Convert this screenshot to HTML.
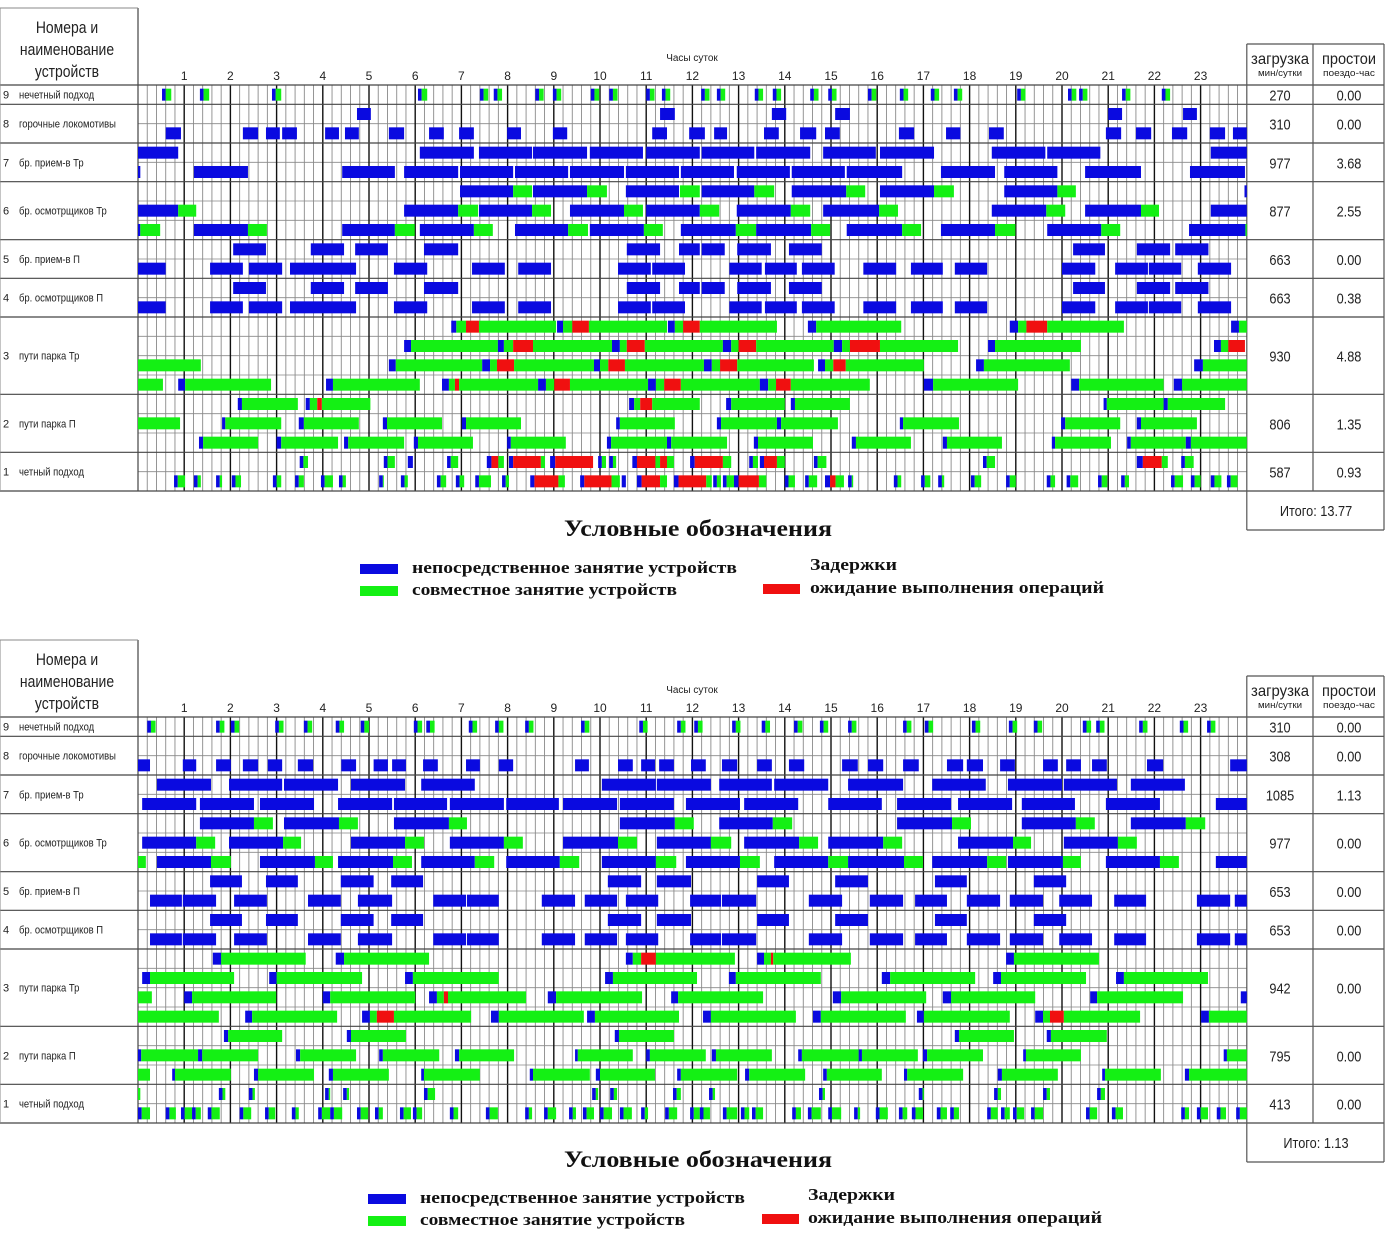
<!DOCTYPE html>
<html><head><meta charset="utf-8">
<style>
html,body{margin:0;padding:0;background:#fff;}
svg{display:block;}
text{font-family:"Liberation Sans","DejaVu Sans",sans-serif;}
.serif{font-family:"Liberation Serif","DejaVu Serif",serif;font-weight:bold;}
</style></head>
<body>
<svg id="chart" width="1385" height="1240" viewBox="0 0 1385 1240" xmlns="http://www.w3.org/2000/svg"></svg>
<script>
// ===== DATA (hours of day) =====
const hourTicks = [1,2,3,4,5,6,7,8,9,10,11,12,13,14,15,16,17,18,19,20,21,22,23];
const rowNumbers = ["9","8","7","6","5","4","3","2","1"];
const rowNames = ["нечетный подход","горочные локомотивы","бр. прием-в Тр","бр. осмотрщиков Тр","бр. прием-в П","бр. осмотрщиков П","пути парка Тр","пути парка П","четный подход"];
const subRowCounts = [1,2,2,3,2,2,4,3,2];

const topLoad = ["270","310","977","877","663","663","930","806","587"];
const topIdle = ["0.00","0.00","3.68","2.55","0.00","0.38","4.88","1.35","0.93"];
const topTotal = "Итого: 13.77";
const botLoad = ["310","308","1085","977","653","653","942","795","413"];
const botIdle = ["0.00","0.00","1.13","0.00","0.00","0.00","0.00","0.00","0.00"];
const botTotal = "Итого: 1.13";

// ---- TOP panel ----
const topRow9 = [[[0.52,0.72,'K'],[1.34,1.54,'K'],[2.9,3.1,'K'],[6.06,6.26,'K'],[7.4,7.58,'K'],[7.7,7.88,'K'],[8.6,8.78,'K'],[8.98,9.16,'K'],[9.8,9.98,'K'],[10.2,10.38,'K'],[11.0,11.18,'K'],[11.34,11.52,'K'],[12.19,12.37,'K'],[12.53,12.71,'K'],[13.35,13.53,'K'],[13.74,13.92,'K'],[14.55,14.73,'K'],[14.94,15.12,'K'],[15.8,15.98,'K'],[16.49,16.67,'K'],[17.16,17.34,'K'],[17.66,17.84,'K'],[19.03,19.21,'K'],[20.13,20.31,'K'],[20.37,20.55,'K'],[21.3,21.48,'K'],[22.16,22.34,'K']]];
const topRow8 = [
 [[4.74,5.04,'B'],[11.3,11.62,'B'],[13.72,14.03,'B'],[15.09,15.41,'B'],[21.0,21.3,'B'],[22.62,22.92,'B']],
 [[0.6,0.93,'B'],[2.27,2.6,'B'],[2.77,3.07,'B'],[3.12,3.44,'B'],[4.05,4.35,'B'],[4.48,4.78,'B'],[5.43,5.76,'B'],[6.3,6.62,'B'],[6.95,7.27,'B'],[7.99,8.29,'B'],[8.98,9.29,'B'],[11.13,11.45,'B'],[11.93,12.27,'B'],[12.47,12.75,'B'],[13.55,13.87,'B'],[14.33,14.68,'B'],[14.87,15.19,'B'],[16.47,16.8,'B'],[17.49,17.8,'B'],[18.42,18.74,'B'],[20.95,21.28,'B'],[21.6,21.93,'B'],[22.38,22.71,'B'],[23.2,23.53,'B'],[23.7,24,'B']]];
const topRow7 = [
 [[0,0.87,'B'],[6.1,7.27,'B'],[7.38,8.53,'B'],[8.55,9.72,'B'],[9.78,10.93,'B'],[11.0,12.16,'B'],[12.2,13.34,'B'],[13.38,14.55,'B'],[14.83,15.97,'B'],[16.06,17.23,'B'],[18.48,19.64,'B'],[19.68,20.83,'B'],[23.22,24,'B']],
 [[0,0.05,'B'],[1.21,2.38,'B'],[4.42,5.56,'B'],[5.76,6.93,'B'],[6.97,8.12,'B'],[8.16,9.31,'B'],[9.35,10.52,'B'],[10.56,11.71,'B'],[11.75,12.9,'B'],[12.96,14.11,'B'],[14.15,15.3,'B'],[15.34,16.54,'B'],[17.38,18.55,'B'],[18.75,19.9,'B'],[20.5,21.71,'B'],[22.77,23.96,'B']]];
const topRow6 = [
 [[6.97,8.12,'B'],[8.12,8.53,'G'],[8.55,9.72,'B'],[9.72,10.15,'G'],[10.56,11.71,'B'],[11.73,12.16,'G'],[12.2,13.34,'B'],[13.34,13.77,'G'],[14.15,15.33,'B'],[15.33,15.74,'G'],[16.06,17.23,'B'],[17.23,17.66,'G'],[18.75,19.9,'B'],[19.9,20.3,'G'],[23.95,24,'B']],
 [[0,0.87,'B'],[0.87,1.26,'G'],[5.76,6.93,'B'],[6.93,7.36,'G'],[7.38,8.53,'B'],[8.53,8.94,'G'],[9.35,10.52,'B'],[10.52,10.93,'G'],[11.0,12.16,'B'],[12.16,12.58,'G'],[12.96,14.13,'B'],[14.13,14.55,'G'],[14.83,16.04,'B'],[16.04,16.45,'G'],[18.48,19.66,'B'],[19.66,20.07,'G'],[20.5,21.71,'B'],[21.71,22.1,'G'],[23.22,24,'B']],
 [[0,0.05,'B'],[0.05,0.48,'G'],[1.21,2.38,'B'],[2.38,2.79,'G'],[4.42,5.56,'B'],[5.56,5.99,'G'],[6.1,7.27,'B'],[7.27,7.68,'G'],[8.16,9.31,'B'],[9.31,9.74,'G'],[9.78,10.95,'B'],[10.95,11.36,'G'],[11.75,12.94,'B'],[12.94,13.38,'G'],[13.38,14.57,'B'],[14.57,14.98,'G'],[15.34,16.54,'B'],[16.54,16.95,'G'],[17.38,18.55,'B'],[18.55,18.99,'G'],[19.68,20.85,'B'],[20.85,21.26,'G'],[22.75,23.97,'B'],[23.97,24,'G']]];
const topRow5 = [
 [[2.06,2.77,'B'],[3.74,4.46,'B'],[4.7,5.41,'B'],[6.19,6.93,'B'],[10.58,11.3,'B'],[11.71,12.16,'B'],[12.2,12.7,'B'],[12.97,13.7,'B'],[14.09,14.8,'B'],[20.24,20.93,'B'],[21.62,22.34,'B'],[22.45,23.17,'B']],
 [[0,0.6,'B'],[1.56,2.27,'B'],[2.4,3.12,'B'],[3.29,4.72,'B'],[5.54,6.26,'B'],[7.23,7.94,'B'],[8.23,8.94,'B'],[10.39,11.1,'B'],[11.13,11.84,'B'],[12.8,13.5,'B'],[13.57,14.26,'B'],[14.37,15.08,'B'],[15.7,16.41,'B'],[16.73,17.42,'B'],[17.68,18.38,'B'],[20.0,20.72,'B'],[21.15,21.86,'B'],[21.88,22.58,'B'],[22.94,23.66,'B']]];
const topRow4 = [
 [[2.06,2.77,'B'],[3.74,4.46,'B'],[4.7,5.41,'B'],[6.19,6.93,'B'],[10.58,11.3,'B'],[11.71,12.16,'B'],[12.2,12.7,'B'],[12.97,13.7,'B'],[14.09,14.8,'B'],[20.24,20.93,'B'],[21.62,22.34,'B'],[22.45,23.17,'B']],
 [[0,0.6,'B'],[1.56,2.27,'B'],[2.4,3.12,'B'],[3.29,4.72,'B'],[5.54,6.26,'B'],[7.23,7.94,'B'],[8.23,8.94,'B'],[10.39,11.1,'B'],[11.13,11.84,'B'],[12.8,13.5,'B'],[13.57,14.26,'B'],[14.37,15.08,'B'],[15.7,16.41,'B'],[16.73,17.42,'B'],[17.68,18.38,'B'],[20.0,20.72,'B'],[21.15,21.86,'B'],[21.88,22.58,'B'],[22.94,23.66,'B']]];
const topRow3 = [
 [[6.78,6.89,'B'],[6.89,7.1,'G'],[7.1,7.38,'R'],[7.38,9.05,'G'],[9.07,9.2,'B'],[9.2,9.4,'G'],[9.4,9.76,'R'],[9.76,11.45,'G'],[11.47,11.62,'B'],[11.62,11.8,'G'],[11.8,12.16,'R'],[12.16,13.83,'G'],[14.5,14.68,'B'],[14.68,16.52,'G'],[18.87,19.05,'B'],[19.05,19.23,'G'],[19.23,19.68,'R'],[19.68,21.34,'G'],[23.66,23.83,'B'],[23.83,24,'G']],
 [[5.76,5.91,'B'],[5.91,7.79,'G'],[7.79,7.92,'B'],[7.92,8.12,'G'],[8.12,8.55,'R'],[8.55,10.26,'G'],[10.26,10.43,'B'],[10.43,10.58,'G'],[10.58,10.97,'R'],[10.97,12.66,'G'],[12.66,12.84,'B'],[12.84,13.0,'G'],[13.0,13.38,'R'],[13.38,15.06,'G'],[15.06,15.24,'B'],[15.24,15.41,'G'],[15.41,16.06,'R'],[16.06,17.75,'G'],[18.4,18.55,'B'],[18.55,20.41,'G'],[23.29,23.44,'B'],[23.44,23.6,'G'],[23.6,23.96,'R']],
 [[0,1.36,'G'],[5.43,5.58,'B'],[5.58,7.45,'G'],[7.45,7.62,'B'],[7.62,7.77,'G'],[7.77,8.14,'R'],[8.14,9.87,'G'],[9.87,10.0,'B'],[10.0,10.18,'G'],[10.18,10.54,'R'],[10.54,12.25,'G'],[12.25,12.42,'B'],[12.42,12.6,'G'],[12.6,12.97,'R'],[12.97,14.63,'G'],[14.72,14.87,'B'],[14.87,15.05,'G'],[15.05,15.32,'R'],[15.32,17.01,'G'],[18.14,18.31,'B'],[18.31,20.17,'G'],[22.86,23.05,'B'],[23.05,24,'G']],
 [[0,0.54,'G'],[0.87,1.02,'B'],[1.02,2.88,'G'],[4.07,4.22,'B'],[4.22,6.1,'G'],[6.58,6.73,'B'],[6.73,6.86,'G'],[6.86,6.95,'R'],[6.95,8.66,'G'],[8.66,8.83,'B'],[8.83,9.01,'G'],[9.01,9.35,'R'],[9.35,11.04,'G'],[11.04,11.21,'B'],[11.21,11.39,'G'],[11.39,11.75,'R'],[11.75,13.46,'G'],[13.46,13.64,'B'],[13.64,13.81,'G'],[13.81,14.13,'R'],[14.13,15.84,'G'],[17.01,17.21,'B'],[17.21,19.05,'G'],[20.2,20.37,'B'],[20.37,22.2,'G'],[22.42,22.6,'B'],[22.6,24,'G']]];
const topRow2 = [
 [[2.16,2.25,'B'],[2.25,3.46,'G'],[3.63,3.72,'B'],[3.72,3.88,'G'],[3.88,3.98,'R'],[3.98,5.03,'G'],[10.63,10.74,'B'],[10.74,10.87,'G'],[10.87,11.13,'R'],[11.13,12.16,'G'],[12.73,12.84,'B'],[12.84,14.0,'G'],[14.13,14.22,'B'],[14.22,15.41,'G'],[20.9,20.97,'B'],[20.97,22.2,'G'],[22.2,22.29,'B'],[22.29,23.53,'G']],
 [[0,0.91,'G'],[1.82,1.89,'B'],[1.89,3.1,'G'],[3.48,3.59,'B'],[3.59,4.78,'G'],[5.3,5.39,'B'],[5.39,6.58,'G'],[7.01,7.1,'B'],[7.1,8.29,'G'],[10.35,10.43,'B'],[10.43,11.62,'G'],[12.53,12.62,'B'],[12.62,13.83,'G'],[13.83,13.92,'B'],[13.92,15.15,'G'],[16.49,16.56,'B'],[16.56,17.77,'G'],[19.98,20.07,'B'],[20.07,21.26,'G'],[21.62,21.71,'B'],[21.71,22.92,'G']],
 [[1.32,1.41,'B'],[1.41,2.6,'G'],[3.0,3.1,'B'],[3.1,4.33,'G'],[4.46,4.55,'B'],[4.55,5.76,'G'],[5.97,6.06,'B'],[6.06,7.25,'G'],[7.99,8.07,'B'],[8.07,9.26,'G'],[10.15,10.24,'B'],[10.24,11.45,'G'],[11.45,11.54,'B'],[11.54,12.75,'G'],[13.33,13.42,'B'],[13.42,14.61,'G'],[15.45,15.54,'B'],[15.54,16.73,'G'],[17.42,17.51,'B'],[17.51,18.7,'G'],[19.78,19.85,'B'],[19.85,21.06,'G'],[21.41,21.49,'B'],[21.49,22.68,'G'],[22.68,22.79,'B'],[22.79,24,'G']]];
const topRow1 = [
 [[3.5,3.68,'K'],[5.32,5.56,'K'],[5.84,5.95,'B'],[6.69,6.93,'K'],[7.55,7.65,'B'],[7.65,7.8,'R'],[7.8,7.92,'G'],[8.03,8.12,'B'],[8.12,8.72,'R'],[8.72,8.81,'G'],[8.92,9.03,'B'],[9.03,9.85,'R'],[9.96,10.13,'K'],[10.2,10.35,'K'],[10.7,10.8,'B'],[10.8,11.2,'R'],[11.2,11.3,'G'],[11.3,11.45,'R'],[11.45,11.6,'G'],[11.95,12.05,'B'],[12.05,12.66,'R'],[12.66,12.84,'G'],[13.23,13.42,'K'],[13.46,13.55,'B'],[13.55,13.83,'R'],[13.83,14.0,'G'],[14.63,14.9,'K'],[18.29,18.55,'K'],[21.62,21.75,'B'],[21.75,22.16,'R'],[22.16,22.29,'G'],[22.58,22.85,'K']],
 [[0.78,1.02,'K'],[1.21,1.36,'K'],[1.69,1.82,'K'],[2.03,2.23,'K'],[2.92,3.1,'K'],[3.4,3.59,'K'],[3.96,4.22,'K'],[4.35,4.5,'K'],[5.22,5.32,'K'],[5.69,5.84,'K'],[6.47,6.67,'K'],[6.88,7.06,'K'],[7.3,7.64,'K'],[7.88,8.03,'K'],[8.49,8.58,'B'],[8.58,9.1,'R'],[9.1,9.24,'G'],[9.57,9.66,'B'],[9.66,10.25,'R'],[10.25,10.43,'G'],[10.47,10.56,'B'],[10.8,10.9,'B'],[10.9,11.3,'R'],[11.3,11.45,'G'],[11.6,11.7,'B'],[11.7,12.3,'R'],[12.3,12.42,'G'],[12.45,12.62,'K'],[12.66,12.9,'K'],[12.9,13.0,'B'],[13.0,13.44,'R'],[13.44,13.6,'G'],[14.0,14.22,'K'],[14.44,14.7,'K'],[14.87,14.98,'B'],[14.98,15.1,'R'],[15.1,15.28,'G'],[15.37,15.48,'K'],[16.36,16.52,'K'],[16.95,17.15,'K'],[17.32,17.45,'K'],[18.03,18.25,'K'],[18.79,19.0,'K'],[19.67,19.85,'K'],[20.1,20.35,'K'],[20.78,20.98,'K'],[21.28,21.45,'K'],[22.36,22.62,'K'],[22.79,23.0,'K'],[23.22,23.45,'K'],[23.57,23.8,'K']]];

// ---- BOTTOM panel ----
const botRow9 = [[[0.2,0.38,'K'],[1.69,1.87,'K'],[2.01,2.19,'K'],[2.97,3.15,'K'],[3.59,3.77,'K'],[4.28,4.46,'K'],[4.82,5.0,'K'],[5.97,6.15,'K'],[6.24,6.42,'K'],[7.16,7.34,'K'],[7.73,7.91,'K'],[8.38,8.56,'K'],[9.59,9.77,'K'],[10.85,11.03,'K'],[11.67,11.85,'K'],[12.04,12.22,'K'],[12.86,13.04,'K'],[13.5,13.68,'K'],[14.2,14.38,'K'],[14.76,14.94,'K'],[15.37,15.55,'K'],[16.56,16.74,'K'],[17.03,17.21,'K'],[18.05,18.23,'K'],[18.85,19.03,'K'],[19.39,19.57,'K'],[20.45,20.63,'K'],[20.74,20.92,'K'],[21.67,21.85,'K'],[22.55,22.73,'K'],[23.14,23.32,'K']]];
const botRow8 = [[],
 [[0,0.26,'B'],[0.97,1.26,'B'],[1.69,2.01,'B'],[2.27,2.6,'B'],[2.81,3.12,'B'],[3.46,3.79,'B'],[4.4,4.72,'B'],[5.1,5.41,'B'],[5.5,5.8,'B'],[6.17,6.49,'B'],[7.1,7.4,'B'],[7.81,8.12,'B'],[9.46,9.76,'B'],[10.39,10.71,'B'],[10.89,11.19,'B'],[11.28,11.6,'B'],[11.97,12.29,'B'],[12.64,12.97,'B'],[13.4,13.72,'B'],[14.09,14.42,'B'],[15.24,15.58,'B'],[15.8,16.13,'B'],[16.56,16.9,'B'],[17.51,17.86,'B'],[17.94,18.29,'B'],[18.66,18.98,'B'],[19.59,19.91,'B'],[20.09,20.41,'B'],[20.65,20.97,'B'],[21.84,22.19,'B'],[23.64,24,'B']]];
const botRow7 = [
 [[0.41,1.58,'B'],[1.97,3.12,'B'],[3.16,4.33,'B'],[4.61,5.78,'B'],[6.13,7.29,'B'],[10.04,11.21,'B'],[11.23,12.4,'B'],[12.58,13.72,'B'],[13.77,14.94,'B'],[15.37,16.56,'B'],[17.19,18.35,'B'],[18.83,20.0,'B'],[20.04,21.19,'B'],[21.49,22.66,'B']],
 [[0.09,1.26,'B'],[1.34,2.51,'B'],[2.64,3.81,'B'],[4.33,5.5,'B'],[5.54,6.69,'B'],[6.75,7.92,'B'],[7.97,9.11,'B'],[9.2,10.37,'B'],[10.43,11.6,'B'],[11.86,13.03,'B'],[13.12,14.29,'B'],[14.94,16.1,'B'],[16.43,17.6,'B'],[17.75,18.92,'B'],[19.13,20.28,'B'],[20.95,22.12,'B'],[23.33,24,'B']]];
const botRow6 = [
 [[1.34,2.51,'B'],[2.51,2.92,'G'],[3.16,4.35,'B'],[4.35,4.76,'G'],[5.54,6.73,'B'],[6.73,7.12,'G'],[10.43,11.62,'B'],[11.62,12.03,'G'],[12.58,13.74,'B'],[13.74,14.16,'G'],[16.43,17.62,'B'],[17.62,18.03,'G'],[19.13,20.3,'B'],[20.3,20.71,'G'],[21.49,22.68,'B'],[22.68,23.1,'G']],
 [[0.09,1.26,'B'],[1.26,1.67,'G'],[1.97,3.14,'B'],[3.14,3.53,'G'],[4.61,5.78,'B'],[5.78,6.19,'G'],[6.75,7.92,'B'],[7.92,8.33,'G'],[9.2,10.39,'B'],[10.39,10.8,'G'],[11.23,12.4,'B'],[12.4,12.84,'G'],[13.12,14.31,'B'],[14.31,14.72,'G'],[14.94,16.13,'B'],[16.13,16.54,'G'],[17.75,18.94,'B'],[18.94,19.33,'G'],[20.04,21.21,'B'],[21.21,21.62,'G']],
 [[0,0.17,'G'],[0.41,1.58,'B'],[1.58,2.01,'G'],[2.64,3.83,'B'],[3.83,4.22,'G'],[4.33,5.52,'B'],[5.52,5.93,'G'],[6.13,7.29,'B'],[7.29,7.71,'G'],[7.97,9.13,'B'],[9.13,9.55,'G'],[10.04,11.21,'B'],[11.21,11.65,'G'],[11.86,13.03,'B'],[13.03,13.46,'G'],[13.77,14.94,'B'],[14.94,15.37,'G'],[15.37,16.58,'B'],[16.58,16.99,'G'],[17.19,18.38,'B'],[18.38,18.79,'G'],[18.83,20.02,'B'],[20.02,20.41,'G'],[20.95,22.12,'B'],[22.12,22.53,'G'],[23.33,24,'B']]];
const botRow5 = [
 [[1.56,2.25,'B'],[2.77,3.46,'B'],[4.39,5.1,'B'],[5.48,6.17,'B'],[10.17,10.89,'B'],[11.23,11.97,'B'],[13.4,14.09,'B'],[15.09,15.8,'B'],[17.25,17.94,'B'],[19.39,20.09,'B']],
 [[0.26,0.95,'B'],[0.97,1.69,'B'],[2.08,2.79,'B'],[3.68,4.39,'B'],[4.76,5.5,'B'],[6.39,7.1,'B'],[7.12,7.81,'B'],[8.74,9.46,'B'],[9.67,10.37,'B'],[10.56,11.26,'B'],[11.95,12.62,'B'],[12.64,13.38,'B'],[14.52,15.24,'B'],[15.84,16.56,'B'],[16.82,17.51,'B'],[17.94,18.66,'B'],[18.87,19.59,'B'],[19.94,20.65,'B'],[21.13,21.82,'B'],[22.92,23.64,'B'],[23.74,24,'B']]];
const botRow4 = [
 [[1.56,2.25,'B'],[2.77,3.46,'B'],[4.39,5.1,'B'],[5.48,6.17,'B'],[10.17,10.89,'B'],[11.23,11.97,'B'],[13.4,14.09,'B'],[15.09,15.8,'B'],[17.25,17.94,'B'],[19.39,20.09,'B']],
 [[0.26,0.95,'B'],[0.97,1.69,'B'],[2.08,2.79,'B'],[3.68,4.39,'B'],[4.76,5.5,'B'],[6.39,7.1,'B'],[7.12,7.81,'B'],[8.74,9.46,'B'],[9.67,10.37,'B'],[10.56,11.26,'B'],[11.95,12.62,'B'],[12.64,13.38,'B'],[14.52,15.24,'B'],[15.84,16.56,'B'],[16.82,17.51,'B'],[17.94,18.66,'B'],[18.87,19.59,'B'],[19.94,20.65,'B'],[21.13,21.82,'B'],[22.92,23.64,'B'],[23.74,24,'B']]];
const botRow3 = [
 [[1.62,1.8,'B'],[1.8,3.63,'G'],[4.28,4.46,'B'],[4.46,6.3,'G'],[10.56,10.71,'B'],[10.71,10.89,'G'],[10.89,11.21,'R'],[11.21,12.92,'G'],[13.4,13.55,'B'],[13.55,13.7,'G'],[13.7,13.75,'R'],[13.75,15.43,'G'],[18.79,18.96,'B'],[18.96,20.8,'G']],
 [[0.09,0.26,'B'],[0.26,2.08,'G'],[2.84,3.0,'B'],[3.0,4.85,'G'],[5.78,5.95,'B'],[5.95,7.81,'G'],[10.11,10.28,'B'],[10.28,12.1,'G'],[12.79,12.94,'B'],[12.94,14.78,'G'],[16.1,16.28,'B'],[16.28,18.12,'G'],[18.51,18.68,'B'],[18.68,20.52,'G'],[21.17,21.34,'B'],[21.34,23.16,'G']],
 [[0,0.3,'G'],[1.0,1.17,'B'],[1.17,2.99,'G'],[4.0,4.16,'B'],[4.16,6.0,'G'],[6.3,6.47,'B'],[6.47,6.62,'G'],[6.62,6.71,'R'],[6.71,8.4,'G'],[8.87,9.05,'B'],[9.05,10.91,'G'],[11.54,11.69,'B'],[11.69,13.53,'G'],[15.04,15.22,'B'],[15.22,17.06,'G'],[17.42,17.6,'B'],[17.6,19.42,'G'],[20.61,20.76,'B'],[20.76,22.62,'G'],[23.87,24,'B']],
 [[0,1.75,'G'],[2.32,2.47,'B'],[2.47,4.31,'G'],[4.85,5.02,'B'],[5.02,5.17,'G'],[5.17,5.54,'R'],[5.54,7.21,'G'],[7.64,7.81,'B'],[7.81,9.65,'G'],[9.72,9.89,'B'],[9.89,11.71,'G'],[12.23,12.4,'B'],[12.4,14.24,'G'],[14.61,14.78,'B'],[14.78,16.62,'G'],[16.86,17.01,'B'],[17.01,18.87,'G'],[19.42,19.59,'B'],[19.59,19.74,'G'],[19.74,20.04,'R'],[20.04,21.69,'G'],[23.01,23.18,'B'],[23.18,24,'G']]];
const botRow2 = [
 [[1.86,1.95,'B'],[1.95,3.12,'G'],[4.52,4.61,'B'],[4.61,5.8,'G'],[10.32,10.41,'B'],[10.41,11.6,'G'],[17.68,17.77,'B'],[17.77,18.96,'G'],[19.67,19.76,'B'],[19.76,20.97,'G']],
 [[0,0.07,'B'],[0.07,1.3,'G'],[1.3,1.39,'B'],[1.39,2.6,'G'],[3.42,3.51,'B'],[3.51,4.72,'G'],[5.22,5.3,'B'],[5.3,6.52,'G'],[6.86,6.95,'B'],[6.95,8.14,'G'],[9.46,9.52,'B'],[9.52,10.71,'G'],[11.0,11.08,'B'],[11.08,12.29,'G'],[12.42,12.51,'B'],[12.51,13.72,'G'],[14.29,14.37,'B'],[14.37,15.6,'G'],[15.6,15.67,'B'],[15.67,16.88,'G'],[16.99,17.08,'B'],[17.08,18.29,'G'],[19.16,19.22,'B'],[19.22,20.41,'G'],[23.5,23.57,'B'],[23.57,24,'G']],
 [[0,0.26,'G'],[0.74,0.8,'B'],[0.8,2.01,'G'],[2.51,2.6,'B'],[2.6,3.81,'G'],[4.13,4.22,'B'],[4.22,5.43,'G'],[6.13,6.19,'B'],[6.19,7.4,'G'],[8.48,8.55,'B'],[8.55,9.78,'G'],[9.91,10.0,'B'],[10.0,11.19,'G'],[11.67,11.75,'B'],[11.75,12.97,'G'],[13.14,13.23,'B'],[13.23,14.44,'G'],[14.83,14.91,'B'],[14.91,16.1,'G'],[16.58,16.65,'B'],[16.65,17.86,'G'],[18.61,18.7,'B'],[18.7,19.91,'G'],[20.87,20.93,'B'],[20.93,22.14,'G'],[22.66,22.75,'B'],[22.75,24,'G']]];
const botRow1 = [
 [[0,0.05,'G'],[1.75,1.89,'K'],[2.4,2.53,'K'],[4.05,4.16,'K'],[4.44,4.57,'K'],[6.19,6.43,'K'],[9.83,9.96,'K'],[10.22,10.37,'K'],[11.58,11.75,'K'],[12.36,12.49,'K'],[14.74,14.87,'K'],[16.9,17.01,'K'],[18.53,18.68,'K'],[19.59,19.74,'K'],[20.76,20.93,'K']],
 [[0,0.26,'K'],[0.6,0.82,'K'],[0.93,1.17,'K'],[1.17,1.36,'K'],[1.51,1.77,'K'],[2.2,2.45,'K'],[2.75,2.97,'K'],[3.33,3.48,'K'],[3.9,4.16,'K'],[4.16,4.42,'K'],[4.74,4.98,'K'],[5.13,5.3,'K'],[5.67,5.91,'K'],[5.95,6.15,'K'],[6.75,6.93,'K'],[7.53,7.79,'K'],[8.38,8.53,'K'],[8.79,9.05,'K'],[9.33,9.48,'K'],[9.63,9.87,'K'],[10.0,10.26,'K'],[10.43,10.69,'K'],[10.89,11.04,'K'],[11.41,11.67,'K'],[11.95,12.16,'K'],[12.16,12.38,'K'],[12.66,12.97,'K'],[13.05,13.23,'K'],[13.29,13.53,'K'],[14.16,14.35,'K'],[14.5,14.78,'K'],[14.94,15.22,'K'],[15.5,15.63,'K'],[15.97,16.23,'K'],[16.47,16.65,'K'],[16.75,16.99,'K'],[17.29,17.51,'K'],[17.58,17.77,'K'],[18.38,18.61,'K'],[18.68,18.87,'K'],[18.94,19.18,'K'],[19.33,19.59,'K'],[20.52,20.76,'K'],[21.08,21.32,'K'],[22.58,22.75,'K'],[22.92,23.16,'K'],[23.35,23.55,'K'],[23.77,24,'K']]];

const topRows = [topRow9,topRow8,topRow7,topRow6,topRow5,topRow4,topRow3,topRow2,topRow1];
const botRows = [botRow9,botRow8,botRow7,botRow6,botRow5,botRow4,botRow3,botRow2,botRow1];

// ===== RENDER =====
const NS = "http://www.w3.org/2000/svg";
const svg = document.getElementById('chart');
const X0 = 138, X1 = 1246.8;
function xScale(h){ return X0 + h*(X1-X0)/24; }
const COLORS = {B:'#0a0ae0', G:'#14f014', R:'#f01010'};

function el(tag, attrs, parent){
  const e = document.createElementNS(NS, tag);
  for (const k in attrs) e.setAttribute(k, attrs[k]);
  (parent||svg).appendChild(e);
  return e;
}
function txt(s, attrs, parent){
  const t = el('text', attrs, parent);
  t.textContent = s;
  return t;
}

function drawPanel(name, yHead, yRows, yEnd, rows, load, idle, total){
  const g = el('g', {});
  
  
  const subH = (yEnd - yRows) / 21;

  // grid minor verticals
  const grid = el('g', {}, g);
  
  
  for (let i=1;i<24*5;i++){
    if (i%5===0) continue;
    const x = xScale(i/5);
    el('line',{x1:x,y1:yRows,x2:x,y2:yEnd,stroke:'#8a8a8a','stroke-width':0.9},grid);
  }
  // horizontal sub-row lines
  let y = yRows, rowTops=[];
  for (let r=0;r<9;r++){
    rowTops.push(y);
    for (let s=0;s<subRowCounts[r];s++){
      if (s>0) el('line',{x1:X0,y1:y,x2:X1,y2:y,stroke:'#888','stroke-width':0.8},grid);
      y += subH;
    }
  }
  rowTops.push(yEnd);
  // hour verticals
  for (let h=1;h<24;h++){
    const x = xScale(h);
    el('line',{x1:x,y1:yRows,x2:x,y2:yEnd,stroke:'#111','stroke-width':1.4},grid);
  }
  // row borders
  for (let r=0;r<=9;r++){
    el('line',{x1:0,y1:rowTops[r],x2:1384,y2:rowTops[r],stroke:'#444','stroke-width':1.2},g);
  }
  el('line',{x1:X0,y1:yHead-2,x2:X0,y2:yEnd,stroke:'#444','stroke-width':1.2},g);
  el('line',{x1:0,y1:yHead-2,x2:0,y2:yEnd,stroke:'#888','stroke-width':1},g);
  el('line',{x1:0,y1:yHead-2,x2:X0,y2:yHead-2,stroke:'#888','stroke-width':1},g);
  el('line',{x1:X1,y1:yRows-41,x2:X1,y2:yEnd+39,stroke:'#555','stroke-width':1.2},g);
  el('line',{x1:1313,y1:yRows-41,x2:1313,y2:yEnd,stroke:'#555','stroke-width':1.2},g);
  el('line',{x1:1384,y1:yRows-41,x2:1384,y2:yEnd+39,stroke:'#555','stroke-width':1.2},g);
  el('line',{x1:X1,y1:yRows-41,x2:1384,y2:yRows-41,stroke:'#555','stroke-width':1.2},g);
  el('line',{x1:X1,y1:yEnd+39,x2:1384,y2:yEnd+39,stroke:'#555','stroke-width':1.2},g);

  // header text
  const hd = el('g',{},g);
  
  
  const hl = ["Номера и","наименование","устройств"];
  for (let i=0;i<3;i++){
    const t = txt(hl[i],{x:67,y:yHead+23+i*22,'text-anchor':'middle','font-size':17,fill:'#222',transform:`translate(67 0) scale(0.82 1) translate(-67 0)`},hd);
  }
  const ch = txt("Часы суток",{x:692,y:yRows-24,'text-anchor':'middle','font-size':10,fill:'#222'},g);
  
  
  for (const h of hourTicks){
    const t = txt(String(h),{x:xScale(h),y:yRows-5,'text-anchor':'middle','font-size':12,fill:'#222'},g);
    
    
  }
  const c1 = txt("загрузка",{x:1280,y:yRows-21,'text-anchor':'middle','font-size':16,fill:'#222',textLength:58,lengthAdjust:'spacingAndGlyphs'},g);
  
  
  txt("мин/сутки",{x:1280,y:yRows-9,'text-anchor':'middle','font-size':9,fill:'#222',textLength:44,lengthAdjust:'spacingAndGlyphs'},g);
  const c2 = txt("простои",{x:1349,y:yRows-21,'text-anchor':'middle','font-size':16,fill:'#222',textLength:54,lengthAdjust:'spacingAndGlyphs'},g);
  
  
  txt("поездо-час",{x:1349,y:yRows-9,'text-anchor':'middle','font-size':9,fill:'#222',textLength:52,lengthAdjust:'spacingAndGlyphs'},g);

  // rows
  for (let r=0;r<9;r++){
    const cy = (rowTops[r]+rowTops[r+1])/2;
    const lab = el('g',{},g);
    
    
    txt(rowNumbers[r],{x:3,y:cy+4,'font-size':11,fill:'#222'},lab);
    txt(rowNames[r],{x:19,y:cy+4,'font-size':11,fill:'#222',transform:`translate(19 0) scale(0.86 1) translate(-19 0)`},lab);
    const lv = txt(load[r],{x:1280,y:cy+6,'text-anchor':'middle','font-size':15,fill:'#222',transform:`translate(1280 0) scale(0.85 1) translate(-1280 0)`},g);
    
    
    const iv = txt(idle[r],{x:1349,y:cy+6,'text-anchor':'middle','font-size':15,fill:'#222',transform:`translate(1349 0) scale(0.85 1) translate(-1349 0)`},g);
    
    

    const subs = rows[r];
    for (let s=0;s<subs.length;s++){
      const sy = rowTops[r] + s*subH + subH/2;
      for (const seg of subs[s]){
        const x1 = xScale(seg[0]), x2 = xScale(seg[1]);
        if (seg[2]==='K'){
          const bw = Math.min(xScale(seg[0]+0.08)-x1, x2-x1);
          const b = el('rect',{x:x1,y:sy-6,width:bw,height:12,fill:COLORS.B},g);
          
          
          if (x2-x1>bw){
            const gr = el('rect',{x:x1+bw,y:sy-6,width:x2-x1-bw,height:12,fill:COLORS.G},g);
            
            
          }
        } else {
          const rc = el('rect',{x:x1,y:sy-6,width:Math.max(1,x2-x1),height:12,fill:COLORS[seg[2]]},g);
          
          
        }
      }
    }
  }
  const tt = txt(total,{x:1316,y:yEnd+25,'text-anchor':'middle','font-size':15,fill:'#222',transform:`translate(1316 0) scale(0.85 1) translate(-1316 0)`},g);
  
  
}

function drawLegend(name, yTitle, xSw, xTxt, yRow1, xDel, xRed){
  const g = el('g',{});
  
  
  txt("Условные обозначения",{x:698,y:yTitle,'text-anchor':'middle','font-size':23,'class':'serif',fill:'#111',textLength:268,lengthAdjust:'spacingAndGlyphs'},g);
  const e1 = el('rect',{x:xSw,y:yRow1-9,width:38,height:10,fill:COLORS.B},g);
  
  
  txt("непосредственное занятие устройств",{x:xTxt,y:yRow1,'font-size':17,'class':'serif',fill:'#111',textLength:325,lengthAdjust:'spacingAndGlyphs'},g);
  const e2 = el('rect',{x:xSw,y:yRow1+13,width:38,height:10,fill:COLORS.G},g);
  
  
  txt("совместное занятие устройств",{x:xTxt,y:yRow1+22,'font-size':17,'class':'serif',fill:'#111',textLength:265,lengthAdjust:'spacingAndGlyphs'},g);
  txt("Задержки",{x:xDel,y:yRow1-3,'font-size':17,'class':'serif',fill:'#111',textLength:87,lengthAdjust:'spacingAndGlyphs'},g);
  const e3 = el('rect',{x:xRed,y:yRow1+11,width:37,height:10,fill:COLORS.R},g);
  
  
  txt("ожидание выполнения операций",{x:xDel,y:yRow1+20,'font-size':17,'class':'serif',fill:'#111',textLength:294,lengthAdjust:'spacingAndGlyphs'},g);
}

drawPanel('gantt-before', 10, 85, 491, topRows, topLoad, topIdle, topTotal);
drawLegend('legend-before', 536, 360, 412, 573, 810, 763);
drawPanel('gantt-after', 642, 717, 1123, botRows, botLoad, botIdle, botTotal);
drawLegend('legend-after', 1167, 368, 420, 1203, 808, 762);
</script>
</body></html>
